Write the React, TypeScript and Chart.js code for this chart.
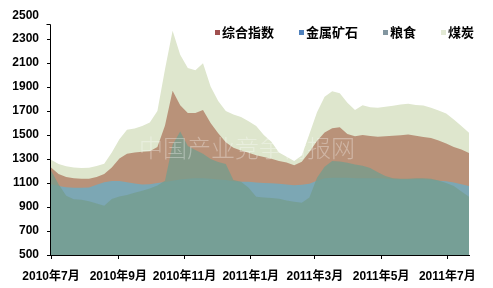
import React, { useEffect, useRef } from 'react';
import { Chart, registerables } from 'chart.js';

Chart.register(...registerables);

// Weekly observation dates
const dates = [
  '2010-07-01', '2010-07-08', '2010-07-15', '2010-07-22', '2010-07-29',
  '2010-08-05', '2010-08-12', '2010-08-19', '2010-08-26',
  '2010-09-02', '2010-09-09', '2010-09-16', '2010-09-23', '2010-09-30',
  '2010-10-07', '2010-10-14', '2010-10-21', '2010-10-28',
  '2010-11-04', '2010-11-11', '2010-11-18', '2010-11-25',
  '2010-12-02', '2010-12-09', '2010-12-16', '2010-12-23', '2010-12-30',
  '2011-01-06', '2011-01-13', '2011-01-20', '2011-01-27',
  '2011-02-03', '2011-02-10', '2011-02-17', '2011-02-24',
  '2011-03-03', '2011-03-10', '2011-03-17', '2011-03-24', '2011-03-31',
  '2011-04-07', '2011-04-14', '2011-04-21', '2011-04-28',
  '2011-05-05', '2011-05-12', '2011-05-19', '2011-05-26',
  '2011-06-02', '2011-06-09', '2011-06-16', '2011-06-23', '2011-06-30',
  '2011-07-07', '2011-07-14', '2011-07-21',
];

// 综合指数
const composite = [
  1230, 1175, 1150, 1140, 1136, 1136, 1150, 1175, 1230, 1305, 1345, 1355, 1362, 1366,
  1400, 1580, 1870, 1750, 1685, 1685, 1710, 1600, 1515, 1440, 1395, 1372, 1352, 1332,
  1318, 1302, 1285, 1271, 1248, 1278, 1360, 1450, 1522, 1557, 1565, 1510, 1490, 1500,
  1492, 1487, 1490, 1495, 1498, 1505, 1495, 1485, 1475, 1455, 1430, 1400, 1380, 1350,
];

// 金属矿石
const metalOre = [
  1090, 1075, 1065, 1060, 1060, 1062, 1086, 1107, 1118, 1117, 1106, 1096, 1089, 1091,
  1100, 1108, 1120, 1130, 1135, 1140, 1140, 1135, 1130, 1125, 1115, 1110, 1110, 1105,
  1100, 1098, 1095, 1088, 1082, 1085, 1095, 1120, 1140, 1145, 1145, 1145, 1140, 1140,
  1140, 1140, 1138, 1132, 1130, 1130, 1132, 1132, 1128, 1120, 1115, 1105, 1090, 1075,
];

// 粮食
const grain = [
  1205, 1090, 995, 965, 960, 948, 930, 910, 968, 987, 1000, 1020, 1035, 1055,
  1080, 1120, 1420, 1530, 1410, 1375, 1345, 1300, 1275, 1260, 1125, 1110, 1060, 985,
  980, 975, 970, 955, 945, 935, 980, 1145, 1237, 1285, 1280, 1270, 1255, 1245,
  1225, 1190, 1158, 1140, 1135, 1136, 1140, 1140, 1136, 1122, 1100, 1075, 1030, 985,
];

// 煤炭
const coal = [
  1295, 1258, 1240, 1230, 1225, 1228, 1242, 1262, 1355, 1466, 1545, 1555, 1575, 1605,
  1700, 2050, 2370, 2170, 2060, 2040, 2100, 1905, 1785, 1700, 1672, 1650, 1615, 1575,
  1500, 1445, 1355, 1320, 1285, 1330, 1510, 1690, 1820, 1865, 1850, 1770, 1710, 1750,
  1732, 1728, 1737, 1745, 1755, 1762, 1752, 1746, 1728, 1705, 1680, 1630, 1575, 1520,
];

const seriesNames = ['综合指数', '金属矿石', '粮食', '煤炭'];

const monthTickDates = [
  '2010-07-01', '2010-09-01', '2010-11-01', '2011-01-01', '2011-03-01', '2011-05-01', '2011-07-01',
];
const monthTickLabels = [
  '2010年7月', '2010年9月', '2010年11月', '2011年1月', '2011年3月', '2011年5月', '2011年7月',
];

const yMin = 500;
const yMax = 2500;
const yStep = 200;

const watermarkText = '中国产业竞争情报网';

const FONT = '"Liberation Sans", "Noto Sans CJK SC", sans-serif';

function dayOf(s: string): number {
  const [y, m, d] = s.split('-').map(Number);
  const [y0, m0, d0] = monthTickDates[0].split('-').map(Number);
  return Math.round((Date.UTC(y, m - 1, d) - Date.UTC(y0, m0 - 1, d0)) / 86400000);
}

const tickDays = monthTickDates.map(dayOf);
const xs = dates.map(dayOf);

const toPoints = (vals: number[]) => vals.map((v, i) => ({ x: xs[i], y: v }));

const fills = {
  composite: '#b99279',
  metalOre: '#7ca7b4',
  grain: 'rgba(116,156,140,0.76)',
  coal: '#dee6cd',
};
const legendColors = ['#a0504f', '#4f81bd', '#8296a0', '#e2e9d4'];

const overlayPlugin = {
  id: 'overlay',
  afterDraw(chart: any) {
    const { ctx, chartArea, scales } = chart;
    ctx.save();
    // watermark
    ctx.font = `300 24px "Noto Sans CJK SC", sans-serif`;
    ctx.fillStyle = 'rgba(255,255,255,0.32)';
    ctx.textAlign = 'center';
    ctx.textBaseline = 'middle';
    ctx.fillText(watermarkText, (chartArea.left + chartArea.right) / 2 - 13, scales.y.getPixelForValue(1390));

    // y axis line
    ctx.strokeStyle = '#000';
    ctx.lineWidth = 1;
    const xl = Math.round(chartArea.left) - 0.5;
    const yTop = Math.round(scales.y.getPixelForValue(2430)) + 0.5;
    ctx.beginPath();
    ctx.moveTo(xl, yTop);
    ctx.lineTo(xl, chartArea.bottom);
    ctx.moveTo(xl - 4, yTop);
    ctx.lineTo(xl, yTop);
    ctx.stroke();

    // legend
    ctx.font = `bold 13px ${FONT}`;
    ctx.textAlign = 'left';
    ctx.textBaseline = 'middle';
    let lx = 215;
    const ly = 33;
    seriesNames.forEach((name, i) => {
      ctx.fillStyle = legendColors[i];
      ctx.fillRect(lx, ly - 3, 5, 5);
      lx += 7;
      ctx.fillStyle = '#000';
      ctx.fillText(name, lx, ly);
      lx += ctx.measureText(name).width + 25;
    });
    ctx.restore();
  },
};

export default function App() {
  const canvasRef = useRef<HTMLCanvasElement | null>(null);

  useEffect(() => {
    document.body.style.margin = '0';
    const canvas = canvasRef.current;
    if (!canvas) return;
    const common = {
      pointRadius: 0,
      pointHoverRadius: 0,
      borderWidth: 0,
      tension: 0,
      fill: 'start' as const,
    };
    const chart = new Chart(canvas, {
      type: 'line',
      data: {
        datasets: [
          { ...common, label: seriesNames[0], data: toPoints(composite), backgroundColor: fills.composite, borderColor: fills.composite, order: 3 },
          { ...common, label: seriesNames[1], data: toPoints(metalOre), backgroundColor: fills.metalOre, borderColor: fills.metalOre, order: 2 },
          { ...common, label: seriesNames[2], data: toPoints(grain), backgroundColor: fills.grain, borderColor: 'rgba(0,0,0,0)', order: 1 },
          { ...common, label: seriesNames[3], data: toPoints(coal), backgroundColor: fills.coal, borderColor: fills.coal, order: 4 },
        ],
      },
      options: {
        animation: false,
        responsive: true,
        maintainAspectRatio: false,
        events: [],
        layout: { padding: { top: 9, right: 24, left: 0, bottom: 0 } },
        plugins: {
          legend: { display: false },
          tooltip: { enabled: false },
        },
        scales: {
          x: {
            type: 'linear',
            min: xs[0],
            max: xs[xs.length - 1],
            afterBuildTicks: (scale: any) => {
              scale.ticks = tickDays.map((v) => ({ value: v }));
            },
            afterFit: (scale: any) => {
              scale.height = 33;
            },
            ticks: {
              autoSkip: false,
              maxRotation: 0,
              minRotation: 0,
              padding: 10,
              color: '#000',
              font: { family: FONT, size: 12, weight: 'bold' },
              callback: (v: any) => {
                const idx = tickDays.indexOf(Number(v));
                return idx >= 0 ? monthTickLabels[idx] : '';
              },
            },
            grid: { drawOnChartArea: false, drawTicks: true, tickLength: 4, color: '#000' },
            border: { display: true, color: '#000', width: 1 },
          },
          y: {
            type: 'linear',
            min: yMin,
            max: yMax,
            afterFit: (scale: any) => {
              scale.width = 51;
            },
            ticks: {
              stepSize: yStep,
              padding: 8,
              color: '#000',
              font: { family: FONT, size: 12, weight: 'bold' },
              callback: (v: any) => String(v),
            },
            grid: {
              drawOnChartArea: false,
              drawTicks: true,
              tickLength: 4,
              color: (c: any) => (c.tick && c.tick.value === yMax ? 'rgba(0,0,0,0)' : '#000'),
            },
            border: { display: false },
          },
        },
      },
      plugins: [overlayPlugin],
    });
    return () => chart.destroy();
  }, []);

  return (
    <div style={{ width: 493, height: 288, position: 'relative', background: '#fff' }}>
      <canvas ref={canvasRef} />
    </div>
  );
}
